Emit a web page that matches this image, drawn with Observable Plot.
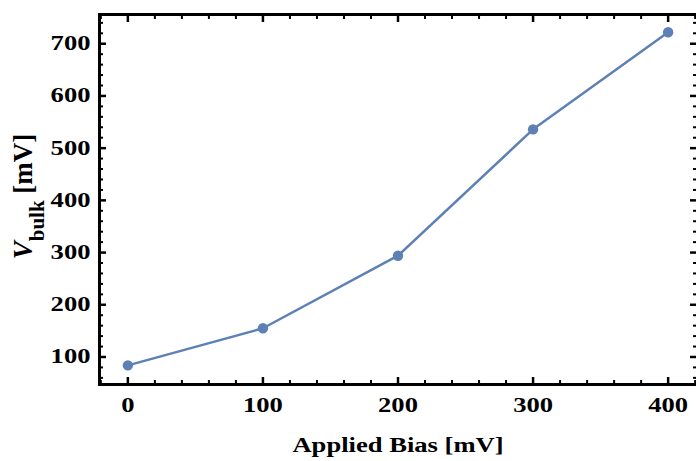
<!DOCTYPE html>
<html><head><meta charset="utf-8">
<script src="https://cdn.jsdelivr.net/npm/d3@7"></script>
<script src="https://cdn.jsdelivr.net/npm/@observablehq/plot@0.6"></script>
<style>body{margin:0;background:#fff;overflow:hidden}</style>
</head><body><div id="chart"></div>
<script>
const bias = [0, 100, 200, 300, 400];
const vbulk = [84, 155, 294, 536, 722];
const xTicks = [0, 100, 200, 300, 400];
const yTicks = [100, 200, 300, 400, 500, 600, 700];
const xMinorTicks = [-20, 20, 40, 60, 80, 120, 140, 160, 180, 220, 240, 260, 280, 320, 340, 360, 380, 420];
const yMinorTicks = [60, 80, 120, 140, 160, 180, 220, 240, 260, 280, 320, 340, 360, 380, 420, 440, 460, 480, 520, 540, 560, 580, 620, 640, 660, 680, 720, 740];
const xLabel = "Applied Bias [mV]";
const yLabel = "Vbulk [mV]";

const data = bias.map((b, i) => ({bias: b, vbulk: vbulk[i]}));
const blue = "#5E81B5";
const none = () => "";

const tickAxes = [];
for (const [anchor, ax] of [["bottom", "x"], ["top", "x"], ["left", "y"], ["right", "y"]]) {
  const A = ax === "x" ? Plot.axisX : Plot.axisY;
  const major = ax === "x" ? xTicks : yTicks;
  const minor = ax === "x" ? xMinorTicks : yMinorTicks;
  tickAxes.push(A(major, {anchor, tickSize: -7, strokeWidth: 2.5, tickFormat: none, label: null}));
  tickAxes.push(A(minor, {anchor, tickSize: -4, strokeWidth: 2, tickFormat: none, label: null}));
}

const svg = Plot.plot({
  width: 696, height: 461,
  marginLeft: 99, marginRight: 0, marginTop: 14, marginBottom: 77,
  x: {domain: [-21, 421]},
  y: {domain: [47.3, 756]},
  style: {fontFamily: "'Liberation Serif', 'Times New Roman', serif", fontWeight: "bold", fontSize: "20px", background: "white", color: "black"},
  marks: [
    Plot.axisX(xTicks, {anchor: "bottom", tickSize: 0, tickPadding: 13, fontSize: 20, label: null}),
    Plot.axisY(yTicks, {anchor: "left", tickSize: 0, tickPadding: 9, fontSize: 20, label: null}),
    ...tickAxes,
    Plot.frame({anchor: "left", strokeWidth: 3, strokeLinecap: "square"}),
    Plot.frame({anchor: "bottom", strokeWidth: 3, strokeLinecap: "square"}),
    Plot.frame({anchor: "top", strokeWidth: 3, strokeLinecap: "square"}),
    Plot.line(data, {x: "bias", y: "vbulk", stroke: blue, strokeWidth: 2.5}),
    Plot.dot(data, {x: "bias", y: "vbulk", fill: blue, r: 5.2}),
    Plot.text([0], {frameAnchor: "bottom", text: () => xLabel, dy: 67, fontSize: 20, fill: "black"}),
    Plot.text([0], {frameAnchor: "left", textAnchor: "middle", lineAnchor: "middle", text: () => yLabel, rotate: -90, dx: -76, dy: -3, fontSize: 27, fill: "black"})
  ]
});
document.getElementById("chart").appendChild(svg);

const ns = "http://www.w3.org/2000/svg";
svg.querySelectorAll("text").forEach(t => {
  const isY = t.textContent === yLabel;
  if (isY) {
    t.textContent = "";
    const parts = [["V", {"font-style": "italic", "font-size": 27}], ["bulk", {"font-size": 21, "dy": 12}], ["\u00a0[mV]", {"font-size": 27, "dy": -12}]];
    for (const [s, attrs] of parts) {
      const ts = document.createElementNS(ns, "tspan");
      ts.textContent = s;
      for (const k in attrs) ts.setAttribute(k, attrs[k]);
      t.appendChild(ts);
    }
  } else {
    const tr = t.getAttribute("transform") || "";
    t.setAttribute("transform", `${tr} scale(1.33,1)`);
  }
});
</script>
</body></html>
